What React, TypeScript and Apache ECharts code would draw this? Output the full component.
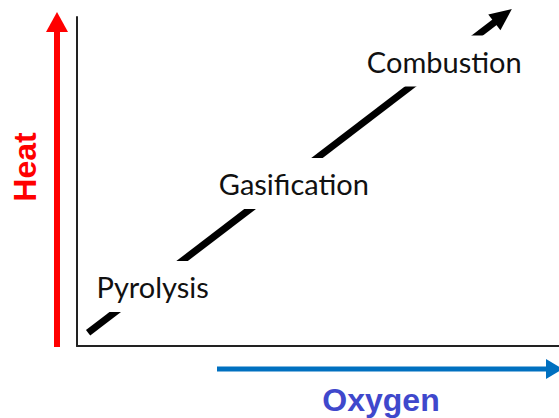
import React, { useEffect, useRef } from "react";
import * as echarts from "echarts";

// Process stages placed on the Oxygen (x) / Heat (y) plane, 0..100 scale
const stages = ["Pyrolysis", "Gasification", "Combustion"];
const stageOxygen = [15.7, 45.0, 76.2];
const stageHeat = [18.1, 49.4, 86.6];

// Trend arrow: start and arrow-head centre
const trendOxygen = [2.3, 88.4];
const trendHeat = [4.0, 100.4];

const axisTitles = { x: "Oxygen", y: "Heat" };

export default function App() {
  const ref = useRef<HTMLDivElement>(null);

  useEffect(() => {
    if (!ref.current) return;
    const chart = echarts.init(ref.current, undefined, { renderer: "svg" });

    const trendData = trendOxygen.map((x, i) => {
      const last = i === trendOxygen.length - 1;
      return {
        value: [x, trendHeat[i]],
        symbol: last ? "triangle" : "none",
        symbolSize: last ? [20, 22] : 0,
        symbolRotate: last ? -52.6 : 0,
      };
    });

    const stageData = stages.map((name, i) => ({
      name,
      value: [stageOxygen[i], stageHeat[i]],
    }));

    chart.setOption({
      animation: false,
      backgroundColor: "#ffffff",
      grid: { left: 77, right: 0, top: 17, bottom: 72 },
      xAxis: {
        type: "value",
        min: 0,
        max: 100,
        axisLine: { show: true, onZero: false, lineStyle: { color: "#222", width: 2 } },
        axisTick: { show: false },
        axisLabel: { show: false },
        splitLine: { show: false },
      },
      yAxis: {
        type: "value",
        min: 0,
        max: 100,
        axisLine: { show: true, onZero: false, lineStyle: { color: "#222", width: 2 } },
        axisTick: { show: false },
        axisLabel: { show: false },
        splitLine: { show: false },
      },
      series: [
        {
          type: "line",
          clip: false,
          z: 2,
          data: trendData,
          lineStyle: { color: "#000", width: 7 },
          itemStyle: { color: "#000" },
          showSymbol: true,
        },
        {
          type: "scatter",
          z: 5,
          symbolSize: 0,
          itemStyle: { opacity: 1 },
          data: stageData,
          label: {
            show: true,
            position: "inside",
            formatter: "{b}",
            fontFamily: "Lato",
            fontSize: 29,
            color: "#111",
            opacity: 1,
            backgroundColor: "#ffffff",
            padding: [11, 4],
          },
        },
      ],
      graphic: [
        {
          type: "line",
          shape: { x1: 57, y1: 347, x2: 57, y2: 30 },
          style: { stroke: "#FF0000", lineWidth: 6 },
        },
        {
          type: "polygon",
          shape: { points: [[46, 32], [68, 32], [57, 12]] },
          style: { fill: "#FF0000" },
        },
        {
          type: "text",
          x: 25,
          y: 167,
          rotation: Math.PI / 2,
          style: {
            text: axisTitles.y,
            fill: "#FF0000",
            font: "bold 32px 'Liberation Sans'",
            align: "center",
            verticalAlign: "middle",
          },
        },
        {
          type: "line",
          shape: { x1: 217, y1: 369, x2: 548, y2: 369 },
          style: { stroke: "#0070C0", lineWidth: 5 },
        },
        {
          type: "polygon",
          shape: { points: [[546, 359], [546, 379], [563, 369]] },
          style: { fill: "#0070C0" },
        },
        {
          type: "text",
          x: 381,
          y: 400,
          style: {
            text: axisTitles.x,
            fill: "#3F48CC",
            font: "bold 32px 'Liberation Sans'",
            align: "center",
            verticalAlign: "middle",
          },
        },
      ],
    });

    return () => chart.dispose();
  }, []);

  return (
    <div
      ref={ref}
      style={{ position: "fixed", left: 0, top: 0, width: 559, height: 418 }}
    />
  );
}
